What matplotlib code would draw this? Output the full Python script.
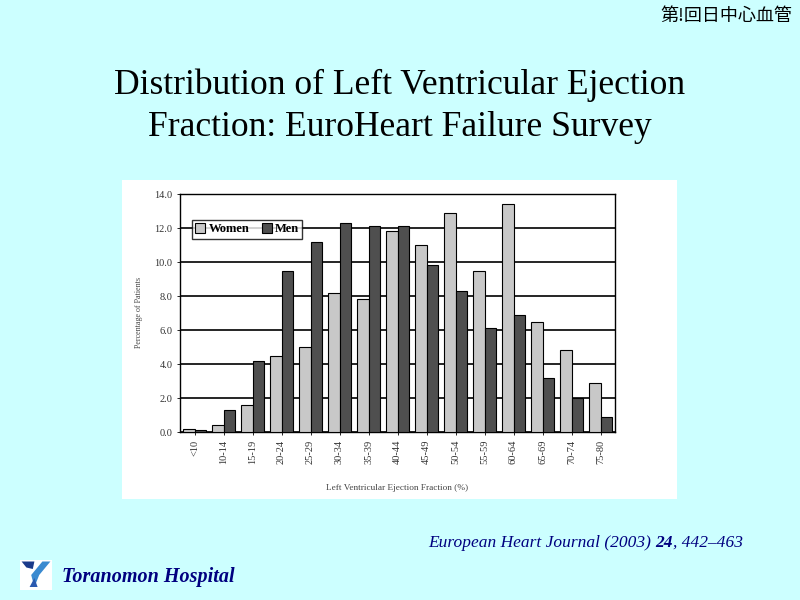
import numpy as np
import matplotlib
matplotlib.use("Agg")
import matplotlib.pyplot as plt
from matplotlib.patches import Rectangle, Polygon

# data
categories = ["<10", "10-14", "15-19", "20-24", "25-29", "30-34", "35-39", "40-44",
              "45-49", "50-54", "55-59", "60-64", "65-69", "70-74", "75-80"]
women = [0.2, 0.4, 1.6, 4.5, 5.0, 8.2, 7.8, 11.8, 11.0, 12.9, 9.5, 13.4, 6.5, 4.8, 2.9]
men = [0.1, 1.3, 4.2, 9.5, 11.2, 12.3, 12.1, 12.1, 9.8, 8.3, 6.1, 6.9, 3.2, 2.0, 0.9]
y_ticks = [0.0, 2.0, 4.0, 6.0, 8.0, 10.0, 12.0, 14.0]

bg = "#ccffff"
navy = "#000080"
serif = "Liberation Serif"

fig = plt.figure(figsize=(8, 6), dpi=100)
fig.patch.set_facecolor(bg)

# title
fig.text(0.5, 1 - 85 / 600, "Distribution of Left Ventricular Ejection",
         ha="center", va="center", fontsize=25.6, family=serif)
fig.text(0.5, 1 - 127 / 600, "Fraction: EuroHeart Failure Survey",
         ha="center", va="center", fontsize=25.6, family=serif)

# top right label
fig.text(1 - 8 / 800, 1 - 16 / 600, "第!回日中心血管", ha="right", va="center",
         fontsize=13, family=["Noto Sans CJK JP", "DejaVu Sans"])

# white panel behind the chart
panel = fig.add_axes([122 / 800, 1 - 499 / 600, 555 / 800, 319 / 600])
panel.set_facecolor("white")
panel.set_xticks([])
panel.set_yticks([])
for s in panel.spines.values():
    s.set_visible(False)

ax = fig.add_axes([180 / 800, 1 - 432 / 600, 435 / 800, 238 / 600])
ax.set_facecolor("white")
x = np.arange(len(categories))
w = 0.38
ax.bar(x - w / 2, women, w, color="#c8c8c8", edgecolor="black", linewidth=0.8,
       label="Women", zorder=3)
ax.bar(x + w / 2, men, w, color="#4f4f4f", edgecolor="black", linewidth=0.8,
       label="Men", zorder=3)
ax.set_xlim(-0.5, len(categories) - 0.5)
ax.set_ylim(0, 14)
ax.set_yticks(y_ticks)
ax.set_yticklabels([f"{v:.1f}" for v in y_ticks], fontsize=7.5, family=serif,
                   color="#333333")
ax.set_xticks(x)
ax.set_xticklabels(categories, rotation=90, fontsize=7.5, family=serif,
                   color="#333333")
ax.grid(axis="y", color="black", linewidth=1.2, zorder=0)
for s in ax.spines.values():
    s.set_linewidth(1.0)
ax.tick_params(axis="both", length=2, width=0.6)
ax.set_ylabel("Percentage of Patients", fontsize=5.8, family=serif,
              color="#444444", labelpad=8)
ax.set_xlabel("Left Ventricular Ejection Fraction (%)", fontsize=6.7,
              family=serif, color="#444444", labelpad=14)

leg = ax.legend(loc="upper left", bbox_to_anchor=(0.028, 0.89), ncol=2,
                prop={"family": serif, "weight": "bold", "size": 9},
                frameon=True, fancybox=False, edgecolor="black",
                handlelength=0.8, handleheight=0.8, handletextpad=0.25,
                columnspacing=1.0, borderpad=0.25, borderaxespad=0)
leg.get_frame().set_linewidth(1.0)
leg.set_zorder(5)

# citation, drawn in pieces so "24" can be bold
renderer = fig.canvas.get_renderer()
parts = [("European Heart Journal (2003) ", "normal"), ("24", "bold"), (", 442–463", "normal")]
xpos = 428
for txt, wt in parts:
    t = fig.text(xpos / 800, 1 - 543 / 600, txt, ha="left", va="center",
                 fontsize=12.5, style="italic", weight=wt, family=serif, color=navy)
    xpos += t.get_window_extent(renderer).width

# hospital logo and name
logo = fig.add_axes([20 / 800, 1 - 590 / 600, 32 / 800, 30 / 600])
logo.set_xlim(0, 1)
logo.set_ylim(0, 1)
logo.axis("off")
logo.add_patch(Rectangle((0, 0), 1, 1, facecolor="white", edgecolor="none"))
logo.add_patch(Polygon([[0.05, 0.95], [0.45, 0.95], [0.4, 0.7], [0.2, 0.75]],
                       facecolor="#1a3a8a"))
logo.add_patch(Polygon([[0.35, 0.5], [0.7, 0.95], [0.95, 0.95], [0.6, 0.5], [0.45, 0.1]],
                       facecolor="#3a8ad0"))
logo.add_patch(Polygon([[0.3, 0.1], [0.45, 0.4], [0.55, 0.1]], facecolor="#2a5ab0"))

fig.text(62 / 800, 1 - 577 / 600, "Toranomon Hospital", ha="left", va="center",
         fontsize=14.5, style="italic", weight="bold", family=serif,
         color=navy)

fig.savefig("out.png", dpi=100, facecolor=bg)
